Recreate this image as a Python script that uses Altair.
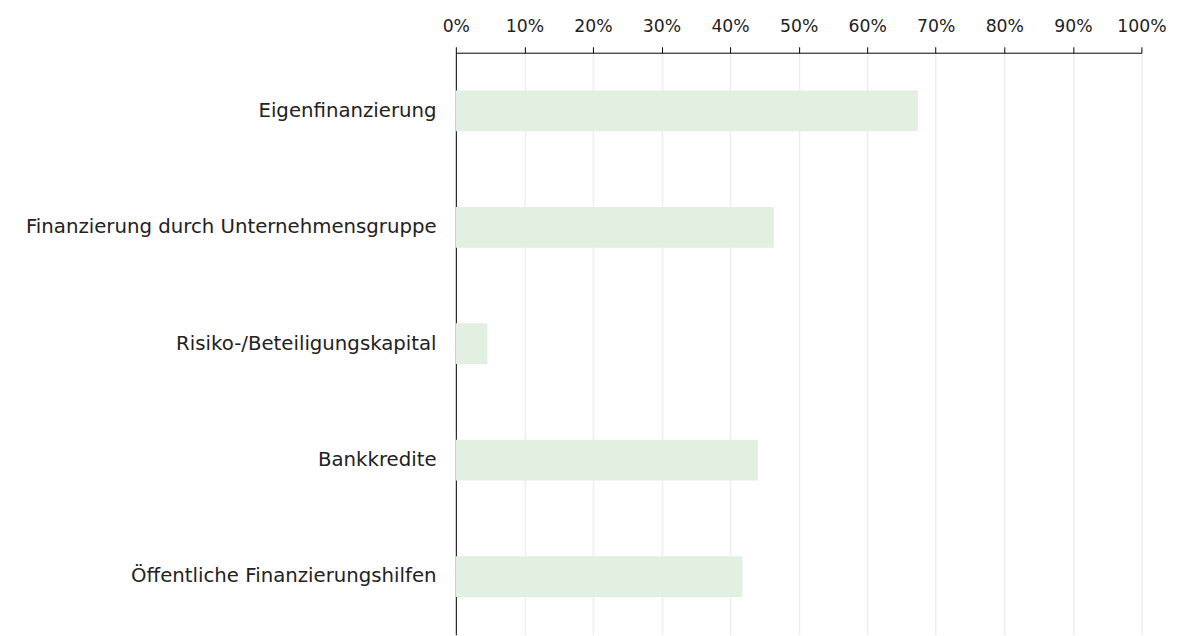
import altair as alt
import pandas as pd

categories = [
    "Eigenfinanzierung",
    "Finanzierung durch Unternehmensgruppe",
    "Risiko-/Beteiligungskapital",
    "Bankkredite",
    "Öffentliche Finanzierungshilfen",
]
values = [0.674, 0.464, 0.046, 0.441, 0.418]
tick_values = [i / 10 for i in range(11)]

df = pd.DataFrame({"category": categories, "value": values})

FONT = "DejaVu Sans"

chart = (
    alt.Chart(df)
    .mark_bar(color="#e2f0e2")
    .encode(
        x=alt.X(
            "value:Q",
            scale=alt.Scale(domain=[0, 1], nice=False),
            axis=alt.Axis(
                orient="top",
                values=tick_values,
                format=".0%",
                title=None,
                domainColor="#000000",
                tickColor="#000000",
                tickSize=6,
                labelFontSize=17.5,
                labelColor="#222222",
                labelFont=FONT,
                labelPadding=12,
                gridColor="#eeeeee",
                gridWidth=1.5,
                labelFlush=False,
            ),
        ),
        y=alt.Y(
            "category:N",
            sort=categories,
            scale=alt.Scale(paddingInner=0.65, paddingOuter=0.325),
            axis=alt.Axis(
                title=None,
                ticks=False,
                domainColor="#000000",
                labelFontSize=20,
                labelColor="#222222",
                labelFont=FONT,
                labelPadding=20,
                labelLimit=600,
                grid=False,
            ),
        ),
    )
    .properties(width=695, height=590, padding={"left": 17, "top": 5, "right": 5, "bottom": 0})
    .configure_view(stroke=None)
)

chart.save("out.html", embed_options={"renderer": "svg", "actions": False})
